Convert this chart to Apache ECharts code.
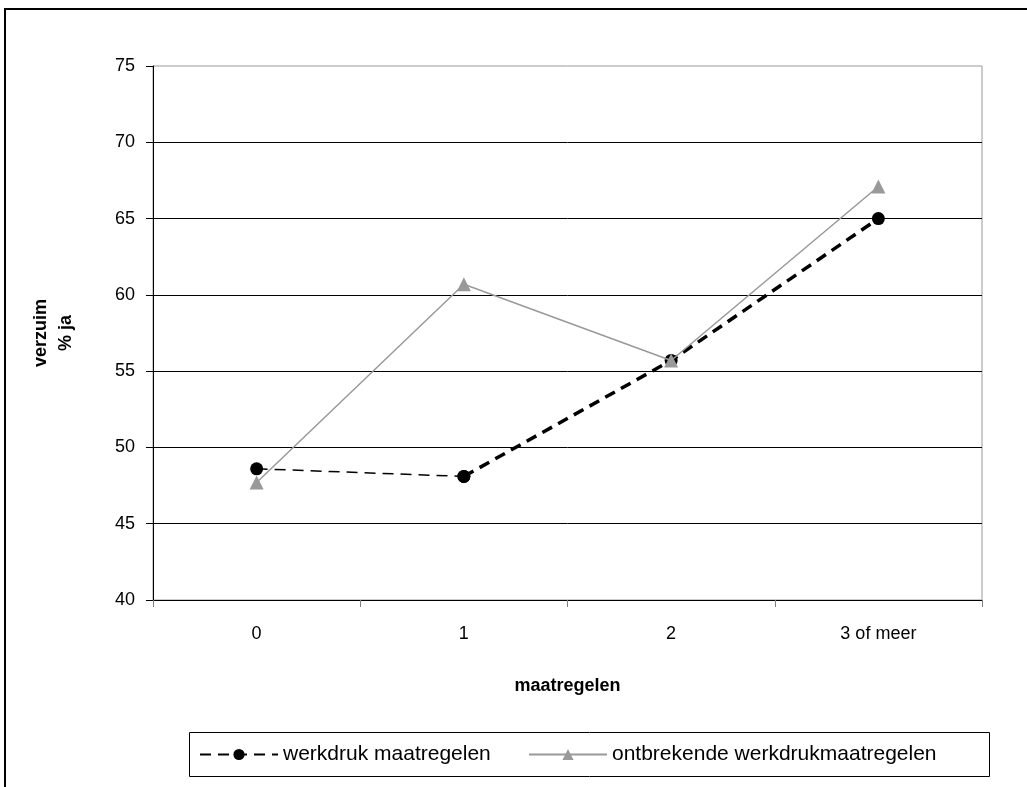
<!DOCTYPE html>
<html>
<head>
<meta charset="utf-8">
<script src="https://cdn.jsdelivr.net/npm/echarts@6/dist/echarts.min.js"></script>
<style>
html, body { margin: 0; padding: 0; background: #fff; }
#chart { width: 1027px; height: 787px; }
</style>
</head>
<body>
<div id="chart"></div>
<script>
var categories = ['0', '1', '2', '3 of meer'];
var werkdruk = [48.6, 48.1, 55.7, 65.0];
var ontbrekend = [47.7, 60.7, 55.7, 67.1];
var yMin = 40, yMax = 75, yStep = 5;

// first segment is drawn thin, the rest thick (as in the original)
var werkdrukFirst = werkdruk.map(function (v, i) { return i <= 1 ? v : null; });
var werkdrukRest = werkdruk.map(function (v, i) { return i >= 1 ? v : null; });

var font = 'Liberation Sans, Arial, sans-serif';
var myChart = echarts.init(document.getElementById('chart'));

var option = {
    animation: false,
    textStyle: { fontFamily: font },
    grid: {
        left: 153, right: 45, top: 66, bottom: 187,
        show: true, borderColor: '#999', borderWidth: 1
    },
    graphic: [
        { type: 'rect', shape: { x: 5, y: 9, width: 1040, height: 800 },
          style: { fill: 'none', stroke: '#000', lineWidth: 2 }, silent: true },
        { type: 'rect', shape: { x: 189.5, y: 732.5, width: 800, height: 44 },
          style: { fill: 'none', stroke: '#000', lineWidth: 1 }, silent: true }
    ],
    legend: [{
        left: 199, top: 744, padding: 0,
        itemWidth: 78, itemHeight: 14,
        textStyle: { fontSize: 21, color: '#000', fontFamily: font },
        data: ['werkdruk maatregelen']
    }, {
        left: 528, top: 744, padding: 0,
        itemWidth: 78, itemHeight: 14,
        textStyle: { fontSize: 21, color: '#000', fontFamily: font },
        data: ['ontbrekende werkdrukmaatregelen']
    }],
    xAxis: {
        type: 'category',
        data: categories,
        boundaryGap: true,
        name: 'maatregelen',
        nameLocation: 'middle',
        nameGap: 77,
        nameTextStyle: { fontSize: 18, fontWeight: 'bold', color: '#000' },
        axisLine: { lineStyle: { color: '#000', width: 1 } },
        axisTick: { show: true, length: 7, lineStyle: { color: '#808080' } },
        axisLabel: { fontSize: 18, color: '#000', margin: 25 }
    },
    yAxis: {
        type: 'value',
        min: yMin, max: yMax, interval: yStep,
        name: 'verzuim\n% ja',
        nameLocation: 'middle',
        nameRotate: 90,
        nameGap: 74,
        nameTextStyle: { fontSize: 18, fontWeight: 'bold', color: '#000', lineHeight: 25 },
        axisLine: { show: true, lineStyle: { color: '#000', width: 1 } },
        axisTick: { show: true, length: 7, lineStyle: { color: '#000' } },
        axisLabel: { fontSize: 18, color: '#000', margin: 18 },
        splitLine: { show: true, showMinLine: false, showMaxLine: false,
                     lineStyle: { color: '#000', width: 1 } }
    },
    series: [{
        name: 'werkdruk maatregelen',
        type: 'line',
        data: werkdrukFirst,
        symbol: 'circle', symbolSize: 13,
        itemStyle: { color: '#000' },
        lineStyle: { color: '#000', width: 1.5, type: [11, 7] },
        z: 2
    }, {
        name: 'werkdruk maatregelen',
        type: 'line',
        data: werkdrukRest,
        symbol: 'circle', symbolSize: 13,
        itemStyle: { color: '#000' },
        lineStyle: { color: '#000', width: 3.5, type: [11, 7] },
        z: 2
    }, {
        name: 'ontbrekende werkdrukmaatregelen',
        type: 'line',
        data: ontbrekend,
        symbol: 'triangle', symbolSize: 14,
        itemStyle: { color: '#999' },
        lineStyle: { color: '#999', width: 1.5 },
        z: 3
    }]
};
myChart.setOption(option);
</script>
</body>
</html>
